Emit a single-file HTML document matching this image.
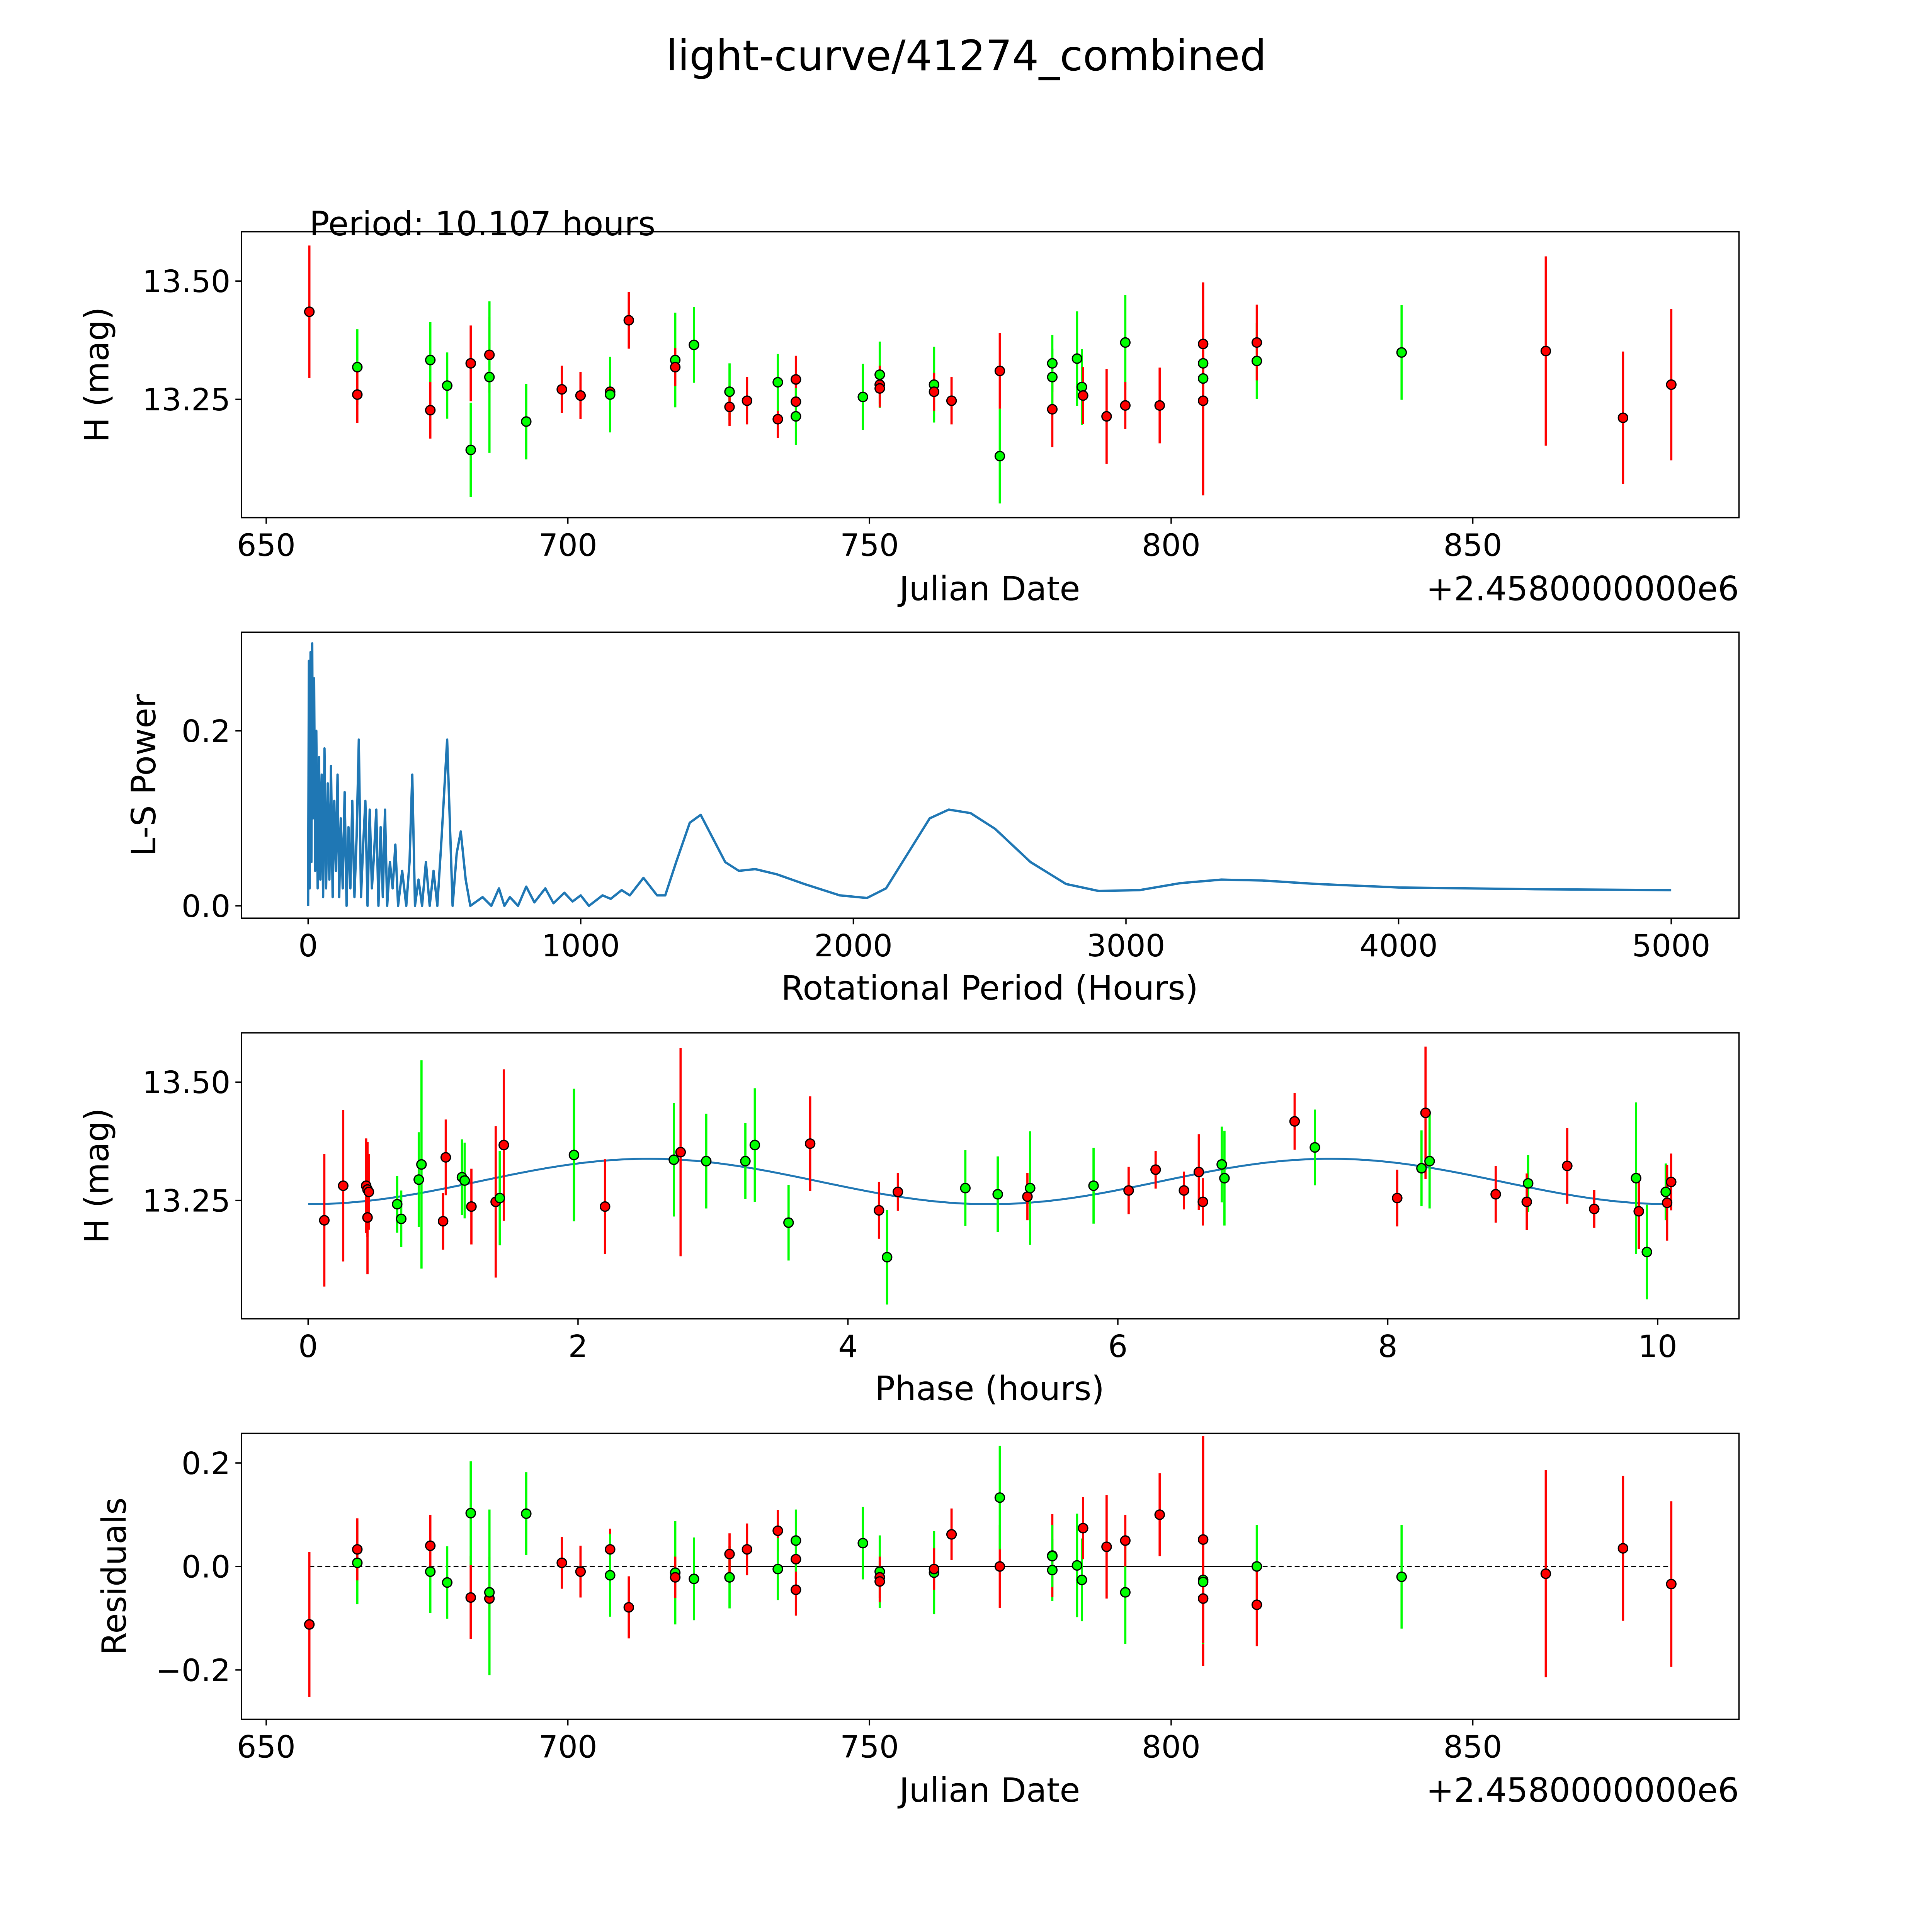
<!DOCTYPE html>
<html><head><meta charset="utf-8"><style>
html,body{margin:0;padding:0;background:#fff;overflow:hidden;width:5400px;height:5400px}
svg{display:block}
text{font-family:"DejaVu Sans","Liberation Sans",sans-serif;fill:#000}
</style></head><body>
<svg id="fig" xmlns="http://www.w3.org/2000/svg" width="5400" height="5400" viewBox="0 0 1693 1693">
<rect width="1693" height="1693" fill="#fff"/>
<text x="784" y="57" font-size="34" text-anchor="middle">light-curve/41274_combined</text>
<g id="g1"></g>
<g id="g2"></g>
<g id="g3"></g>
<g id="g4"></g>
</svg>
<script>
const dates=[657.15,665.1,665.1,677.2,677.2,680.0,683.9,683.9,687.0,687.0,693.1,699.0,702.1,707.0,707.0,710.1,717.8,717.8,720.9,726.8,726.8,729.7,734.8,734.8,737.8,737.8,737.8,748.9,751.7,751.7,751.7,760.7,760.7,763.6,771.6,771.6,780.3,780.3,780.3,784.4,785.2,785.4,789.3,792.4,792.4,798.1,805.3,805.3,805.3,805.3,814.2,814.2,838.2,862.1,874.9,882.9];
const mags=[13.435,13.318,13.260,13.333,13.227,13.279,13.326,13.143,13.344,13.297,13.203,13.271,13.258,13.266,13.260,13.417,13.333,13.318,13.365,13.266,13.234,13.247,13.208,13.286,13.292,13.245,13.214,13.255,13.302,13.281,13.273,13.281,13.266,13.247,13.310,13.130,13.326,13.229,13.297,13.336,13.276,13.258,13.214,13.370,13.237,13.237,13.367,13.326,13.294,13.247,13.331,13.370,13.349,13.352,13.211,13.281];
const resid=[-0.112,0.007,0.033,-0.01,0.04,-0.031,-0.06,0.103,-0.062,-0.05,0.102,0.007,-0.01,0.033,-0.017,-0.079,-0.012,-0.021,-0.024,-0.021,0.024,0.033,0.069,-0.005,-0.045,0.014,0.05,0.045,-0.01,-0.021,-0.029,-0.012,-0.005,0.062,0,0.133,-0.007,0.021,0.02,0.002,-0.026,0.074,0.038,-0.05,0.05,0.1,-0.062,-0.026,-0.03,0.052,0,-0.074,-0.02,-0.014,0.035,-0.034];
const errs=[0.14,0.08,0.06,0.08,0.06,0.07,0.08,0.1,0.08,0.16,0.08,0.05,0.05,0.04,0.08,0.06,0.1,0.04,0.08,0.06,0.04,0.05,0.04,0.06,0.05,0.04,0.06,0.07,0.07,0.04,0.04,0.08,0.04,0.05,0.08,0.1,0.06,0.08,0.06,0.1,0.08,0.06,0.1,0.1,0.05,0.08,0.13,0.08,0.12,0.2,0.08,0.08,0.1,0.2,0.14,0.16];
const colors=["r","g","r","g","r","g","r","g","r","g","g","r","r","r","g","r","g","r","g","g","r","r","r","g","r","r","g","g","g","r","r","g","r","r","r","g","g","r","g","g","g","r","r","g","r","r","r","g","g","r","g","r","g","r","r","r"];
const phases=[0.12,0.26,0.43,0.44,0.44,0.45,0.66,0.69,0.82,0.84,1.0,1.02,1.14,1.16,1.21,1.39,1.42,1.45,1.97,2.20,2.71,2.76,2.95,3.24,3.31,3.56,3.72,4.23,4.29,4.37,4.87,5.11,5.33,5.35,5.82,6.08,6.28,6.49,6.60,6.63,6.77,6.79,7.31,7.46,8.07,8.25,8.28,8.31,8.80,9.04,9.03,9.33,9.53,9.84,9.86,9.92,10.06,10.07,10.10];
const phMags=[13.208,13.281,13.281,13.273,13.214,13.268,13.242,13.211,13.294,13.326,13.206,13.341,13.299,13.292,13.237,13.247,13.255,13.367,13.346,13.237,13.336,13.352,13.333,13.333,13.367,13.203,13.370,13.229,13.130,13.268,13.276,13.263,13.258,13.276,13.281,13.271,13.315,13.271,13.310,13.247,13.326,13.297,13.417,13.362,13.255,13.318,13.435,13.333,13.263,13.286,13.247,13.323,13.232,13.297,13.227,13.141,13.268,13.245,13.289];
const phErrs=[0.14,0.16,0.1,0.1,0.12,0.08,0.06,0.06,0.1,0.22,0.06,0.08,0.08,0.08,0.08,0.16,0.1,0.16,0.14,0.1,0.12,0.22,0.1,0.08,0.12,0.08,0.1,0.06,0.1,0.04,0.08,0.08,0.05,0.12,0.08,0.05,0.04,0.04,0.08,0.05,0.08,0.1,0.06,0.08,0.06,0.08,0.14,0.1,0.06,0.06,0.06,0.08,0.04,0.16,0.08,0.1,0.06,0.08,0.06];
const phColors=["r","r","r","r","r","r","g","g","g","g","r","r","g","g","r","r","g","r","g","r","g","r","g","g","g","g","r","r","g","r","g","g","r","g","g","r","r","r","r","r","g","g","r","g","r","g","r","g","r","g","r","r","r","g","r","g","g","r","r"];
const periods=[0,3,6,9,12,15,18,22,26,30,35,40,45,50,55,60,66,72,78,84,90,96,102,108,114,120,127,134,141,148,155,162,170,178,186,194,202,210,218,226,234,242,250,258,266,274,282,290,300,310,320,330,345,360,372,382,392,405,418,432,446,460,474,490,510,530,545,560,578,595,640,672,700,720,740,770,800,830,870,900,940,970,1000,1030,1080,1110,1150,1180,1230,1280,1310,1350,1400,1440,1480,1530,1580,1640,1720,1820,1950,2050,2120,2200,2280,2350,2430,2520,2650,2780,2900,3050,3200,3350,3500,3700,4000,4500,5000];
const powers=[0,0.28,0.02,0.29,0.05,0.30,0.1,0.26,0.04,0.2,0.02,0.17,0.03,0.15,0.01,0.18,0.02,0.14,0.03,0.16,0.01,0.12,0.04,0.15,0.01,0.1,0.02,0.13,0.0,0.09,0.02,0.12,0.01,0.08,0.19,0.01,0.07,0.12,0.0,0.11,0.02,0.06,0.11,0.0,0.09,0.01,0.11,0.0,0.05,0.02,0.07,0.0,0.04,0.0,0.05,0.15,0.0,0.03,0.0,0.05,0.0,0.04,0.0,0.08,0.19,0.0,0.06,0.085,0.03,0.0,0.01,0.0,0.02,0.0,0.01,0.0,0.022,0.004,0.02,0.003,0.015,0.005,0.012,0.0,0.012,0.008,0.018,0.012,0.032,0.012,0.012,0.05,0.095,0.104,0.08,0.05,0.04,0.042,0.036,0.025,0.012,0.009,0.02,0.06,0.1,0.11,0.106,0.088,0.05,0.025,0.017,0.018,0.026,0.03,0.029,0.025,0.021,0.019,0.018];
const fitParams=[13.29,0.048,5.05];
const jdTicks=[650,700,750,800,850];
const magTicks=[13.25,13.50];
const perTicks=[0,1000,2000,3000,4000,5000];
const powTicks=[0.0,0.2];
const phTicks=[0,2,4,6,8,10];
const resTicks=[-0.2,0.0,0.2];

const NS='http://www.w3.org/2000/svg';
function mk(parent,tag,attrs){const e=document.createElementNS(NS,tag);for(const k in attrs)e.setAttribute(k,attrs[k]);parent.appendChild(e);return e;}
function lin(d0,d1,p0,p1){return v=>p0+(v-d0)*(p1-p0)/(d1-d0);}
const L=196,R=1411;
const xJD=lin(650,850,216,1195);
const xPer=lin(0,5000,250,1356);
const xPh=lin(0,10,250,1345);
const y1=lin(13.25,13.5,324,228);
const y2=lin(0,0.2,735,593);
const y3=lin(13.25,13.5,974,878);
const y4=lin(0,0.2,1271,1187);
const COL={r:'#ff0000',g:'#00ff00'};
const TF=25, LF=27;

function frame(g,top,bot,xs,xt,xfmt,ys,yt,yfmt){
  const r=mk(g,'rect',{x:L,y:top,width:R-L,height:bot-top,fill:'none',stroke:'#000','stroke-width':1.1});
  
  xt.forEach(t=>{const x=xs(t);
    const l=mk(g,'line',{x1:x,x2:x,y1:bot,y2:bot+5,stroke:'#000','stroke-width':1.1});
    
    const tx=mk(g,'text',{x:x,y:bot+31,'font-size':TF,'text-anchor':'middle'});tx.textContent=xfmt(t);
    });
  yt.forEach(t=>{const y=ys(t);
    const l=mk(g,'line',{x1:L-5,x2:L,y1:y,y2:y,stroke:'#000','stroke-width':1.1});
    
    const tx=mk(g,'text',{x:L-9,y:y+9,'font-size':TF,'text-anchor':'end'});tx.textContent=yfmt(t);
    });
}
function label(g,x,y,txt,rot,name,anchor){
  const t=mk(g,'text',{x:x,y:y,'font-size':LF,'text-anchor':anchor||'middle'});
  if(rot)t.setAttribute('transform','rotate(-90 '+x+' '+y+')');
  t.textContent=txt;
}
function points(g,xs,ys,X,Y,E,C){
  X.forEach((v,i)=>{const x=xs(v);
    const l=mk(g,'line',{x1:x,x2:x,y1:ys(Y[i]-E[i]),y2:ys(Y[i]+E[i]),stroke:COL[C[i]],'stroke-width':1.8});
    });
  X.forEach((v,i)=>{
    const c=mk(g,'circle',{cx:xs(v),cy:ys(Y[i]),r:3.8,fill:COL[C[i]],stroke:'#000','stroke-width':1});
    });
}
const f2=t=>t.toFixed(2), f1=t=>t.toFixed(1), fi=t=>String(t);
const fres=t=>t<0?'\u2212'+Math.abs(t).toFixed(1):t.toFixed(1);

const g1=document.getElementById('g1');
frame(g1,188,420,xJD,jdTicks,fi,y1,magTicks,f2);
points(g1,xJD,y1,dates,mags,errs,colors);
label(g1,803,487,'Julian Date',false,'x-axis-title');
label(g1,1411,487,'+2.4580000000e6',false,'x-offset-label','end');
label(g1,88,304,'H (mag)',true,'y-axis-title');
label(g1,251,191,'Period: 10.107 hours',false,'period-annotation','start');

const g2=document.getElementById('g2');
frame(g2,513,745,xPer,perTicks,fi,y2,powTicks,f1);
const pd=periods.map((p,i)=>(i?'L':'M')+xPer(p).toFixed(2)+' '+y2(powers[i]).toFixed(2)).join(' ');
const pl=mk(g2,'path',{d:pd,fill:'none',stroke:'#1f77b4','stroke-width':1.9,'stroke-linejoin':'round'});

label(g2,803,811,'Rotational Period (Hours)',false,'x-axis-title');
label(g2,126,629,'L-S Power',true,'y-axis-title');

const g3=document.getElementById('g3');
frame(g3,838,1070,xPh,phTicks,fi,y3,magTicks,f2);
let fd='';for(let i=0;i<=200;i++){const p=10.107*i/200;const m=fitParams[0]-fitParams[1]*Math.cos(2*Math.PI*p/fitParams[2]);fd+=(i?'L':'M')+xPh(p).toFixed(2)+' '+y3(m).toFixed(2)+' ';}
const fl=mk(g3,'path',{d:fd,fill:'none',stroke:'#1f77b4','stroke-width':1.6});

points(g3,xPh,y3,phases,phMags,phErrs,phColors);
label(g3,803,1136,'Phase (hours)',false,'x-axis-title');
label(g3,88,954,'H (mag)',true,'y-axis-title');

const g4=document.getElementById('g4');
frame(g4,1163,1395,xJD,jdTicks,fi,y4,resTicks,fres);
const zl=mk(g4,'line',{x1:xJD(657.15),x2:xJD(882.9),y1:y4(0),y2:y4(0),stroke:'#000','stroke-width':1.2,'stroke-dasharray':'4 2.5'});

const zs=mk(g4,'line',{x1:xJD(726.8),x2:xJD(814.2),y1:y4(0),y2:y4(0),stroke:'#000','stroke-width':1.2});

points(g4,xJD,y4,dates,resid,errs,colors);
label(g4,803,1462,'Julian Date',false,'x-axis-title');
label(g4,1411,1462,'+2.4580000000e6',false,'x-offset-label','end');
label(g4,102,1279,'Residuals',true,'y-axis-title');
</script>
</body></html>
